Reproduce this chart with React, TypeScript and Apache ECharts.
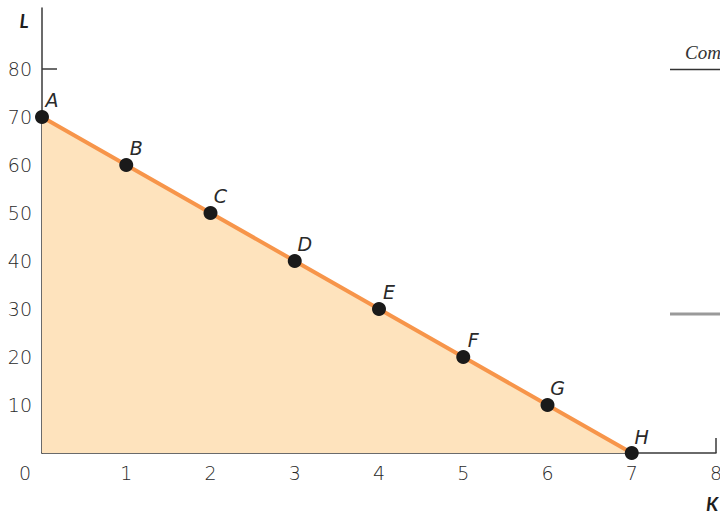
import React, { useEffect, useRef } from "react";
import * as echarts from "echarts";

const kValues = [0, 1, 2, 3, 4, 5, 6, 7];
const lValues = [70, 60, 50, 40, 30, 20, 10, 0];
const pointNames = ["A", "B", "C", "D", "E", "F", "G", "H"];
const yTicks = [10, 20, 30, 40, 50, 60, 80];
const yTickLabels = [10, 20, 30, 40, 50, 60, 70, 80];
const xTicks = [1, 2, 3, 4, 5, 6, 8];
const xTickLabels = [1, 2, 3, 4, 5, 6, 7, 8];

const FONT = "'DejaVu Sans'";
const TEXT = "#2a2a2a";

export default function App() {
  const ref = useRef<HTMLDivElement>(null);
  useEffect(() => {
    if (!ref.current) return;
    const chart = echarts.init(ref.current, undefined, { renderer: "svg" });
    chart.setOption({
      animation: false,
      backgroundColor: "#ffffff",
      grid: { left: 42, right: 4, top: 8, bottom: 62, containLabel: false, outerBoundsMode: "none" },
      xAxis: {
        type: "value",
        min: 0,
        max: 8,
        interval: 1,
        axisLine: { show: true, lineStyle: { color: "#3a3a3a", width: 1.5 } },
        axisTick: { show: true, inside: true, length: 15, customValues: xTicks, lineStyle: { color: "#3a3a3a", width: 1.5 } },
        axisLabel: { customValues: xTickLabels, margin: 10, color: TEXT, fontFamily: FONT, fontWeight: 200, fontSize: 19 },
        splitLine: { show: false },
      },
      yAxis: {
        type: "value",
        min: 0,
        max: 92.7,
        interval: 10,
        axisLine: { show: true, onZero: false, lineStyle: { color: "#3a3a3a", width: 1.5 } },
        axisTick: { show: true, inside: true, length: 15, customValues: yTicks, lineStyle: { color: "#3a3a3a", width: 1.5 } },
        axisLabel: { customValues: yTickLabels, margin: 10, color: TEXT, fontFamily: FONT, fontWeight: 200, fontSize: 19 },
        splitLine: { show: false },
      },
      series: [
        {
          type: "line",
          data: kValues.map((k, i) => [k, lValues[i]]),
          lineStyle: { color: "#F7954A", width: 4 },
          areaStyle: { color: "#FEE3BD", opacity: 1 },
          symbol: "circle",
          symbolSize: 14,
          itemStyle: { color: "#1a1a1a" },
          z: 3,
          label: {
            show: true,
            position: "top",
            distance: 0,
            offset: [10, 0],
            formatter: (p: any) => pointNames[p.dataIndex],
            color: TEXT,
            fontFamily: FONT,
            fontStyle: "italic",
            fontWeight: 200,
            fontSize: 19,
          },
        },
      ],
      graphic: [
        {
          type: "text",
          x: 24,
          y: 20,
          style: { text: "L", fill: "#1e1e1e", font: `italic 700 19px Lato`, align: "center", verticalAlign: "middle" },
        },
        {
          type: "text",
          x: 712,
          y: 503,
          style: { text: "K", fill: "#1e1e1e", font: `italic 700 19px Lato`, align: "center", verticalAlign: "middle" },
        },
        {
          type: "text",
          x: 25,
          y: 473,
          style: { text: "0", fill: TEXT, font: `200 19px ${FONT}`, align: "center", verticalAlign: "middle" },
        },
        {
          type: "text",
          x: 685,
          y: 52,
          style: { text: "Com", fill: "#333", font: `italic 19px "Liberation Serif"`, verticalAlign: "middle" },
        },
        {
          type: "line",
          shape: { x1: 670, y1: 69.5, x2: 720, y2: 69.5 },
          style: { stroke: "#333", lineWidth: 1.5 },
        },
        {
          type: "line",
          shape: { x1: 670, y1: 314, x2: 720, y2: 314 },
          style: { stroke: "#9a9a9a", lineWidth: 3 },
        },
      ],
    });
    return () => chart.dispose();
  }, []);
  return <div ref={ref} style={{ position: "fixed", left: 0, top: 0, width: 720, height: 515 }} />;
}
